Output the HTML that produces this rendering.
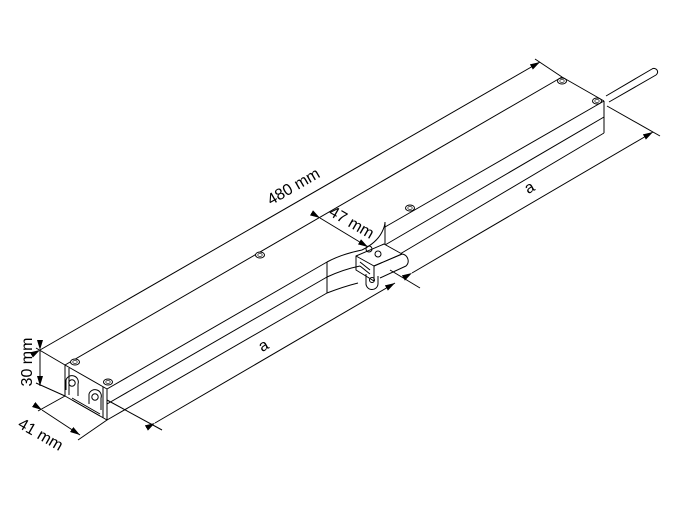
<!DOCTYPE html>
<html><head><meta charset="utf-8"><style>
html,body{margin:0;padding:0;background:#fff;}
svg{display:block;}
text{font-family:"Liberation Sans",sans-serif;fill:#000;}
</style></head><body>
<svg width="674" height="513" viewBox="0 0 674 513" xmlns="http://www.w3.org/2000/svg">
<defs>
<marker id="ar" viewBox="0 0 10 6" refX="10" refY="3" markerWidth="10" markerHeight="6" orient="auto" markerUnits="userSpaceOnUse">
<path d="M0,0 L10,3 L0,6 z" fill="#000"/>
</marker>
</defs>
<g stroke="#000" stroke-width="1" fill="none" stroke-linejoin="round">
<path d="M606,96 L652,69 A3.5,3.5 0 0 1 656,75 L609,102" fill="#fff"/>
<path d="M65,365 L107,389 L107,420 L65,396 Z"/>
<line x1="69" y1="368" x2="69" y2="395"/>
<line x1="103" y1="387" x2="103" y2="418"/>
<path d="M72,398 L100,414"/><path d="M72,400 L100,416"/>
<path d="M66,390 L66,380 A6,6 0 0 1 78,384 L78,396"/>
<circle cx="72" cy="383" r="3.2"/>
<path d="M89,404 L89,394 A6,6 0 0 1 101,398 L101,410"/>
<circle cx="95" cy="397" r="3.2"/>
<line x1="65" y1="365" x2="562" y2="77"/>
<line x1="562" y1="77" x2="604" y2="101"/>
<line x1="107" y1="389" x2="327" y2="262"/>
<line x1="107" y1="404" x2="327" y2="277"/>
<line x1="107" y1="420" x2="327" y2="293"/>
<line x1="327" y1="262" x2="327" y2="293"/>
<path d="M327,262 C340,255 352,252 362,250"/>
<path d="M327,277 C340,271 350,268 360,266"/>
<path d="M327,293 C340,288 350,285 358,283"/>
<path d="M362,250 C370,246 378,240 382,232 C384,228 385,225 385,222"/>
<line x1="385" y1="222" x2="385" y2="244"/>
<line x1="385" y1="227" x2="604" y2="101"/>
<line x1="385" y1="245" x2="604" y2="117"/>
<line x1="400" y1="254" x2="604" y2="133"/>
<line x1="604" y1="101" x2="604" y2="133"/>
<path d="M356,256 L384,244 L402,254 L374,266 Z" fill="#fff"/>
<path d="M356,256 L356,270 L374,281 L374,266"/>
<path d="M374,266 L402,254 A7,7 0 0 1 406,266 L380,278"/>
<path d="M360,262 L370,270"/><path d="M360,266 L370,274"/>
<path d="M366,274 L366,283 A6,6 0 0 0 378,284 L378,276"/>
<circle cx="372" cy="280" r="2.5"/>
<circle cx="369" cy="249" r="3"/>
<circle cx="378" cy="254" r="3"/>
<g fill="#fff">
<ellipse cx="75" cy="362" rx="4.5" ry="3"/><ellipse cx="108" cy="382" rx="4.5" ry="3"/>
<ellipse cx="260" cy="255" rx="4.5" ry="3"/><ellipse cx="410" cy="208" rx="4.5" ry="3"/>
<ellipse cx="562" cy="81" rx="4.5" ry="3"/><ellipse cx="597" cy="101" rx="4.5" ry="3"/>
</g>
<g stroke-width="0.6">
<ellipse cx="75" cy="362" rx="2.2" ry="1.4"/><ellipse cx="108" cy="382" rx="2.2" ry="1.4"/>
<ellipse cx="260" cy="255" rx="2.2" ry="1.4"/><ellipse cx="410" cy="208" rx="2.2" ry="1.4"/>
<ellipse cx="562" cy="81" rx="2.2" ry="1.4"/><ellipse cx="597" cy="101" rx="2.2" ry="1.4"/>
</g>
<line x1="65" y1="365" x2="36" y2="348"/>
<line x1="65" y1="396" x2="36" y2="383"/>
<line x1="65" y1="396" x2="38" y2="411"/>
<line x1="107" y1="420" x2="78" y2="440"/>
<line x1="562" y1="77" x2="535" y2="59"/>
<line x1="107" y1="400" x2="162" y2="430"/>
<line x1="390" y1="270" x2="420" y2="288"/>
<line x1="607" y1="106" x2="660" y2="136"/>
<line x1="40" y1="350" x2="540" y2="62" marker-start="url(#ar)" marker-end="url(#ar)"/>
<line x1="40" y1="350" x2="40" y2="386" marker-start="url(#ar)" marker-end="url(#ar)"/>
<line x1="42" y1="410" x2="80" y2="435" marker-start="url(#ar)" marker-end="url(#ar)"/>
<line x1="320" y1="218" x2="368" y2="247" marker-start="url(#ar)" marker-end="url(#ar)"/>
<line x1="155" y1="423" x2="395" y2="283" marker-start="url(#ar)" marker-end="url(#ar)"/>
<line x1="412" y1="273" x2="653" y2="132" marker-start="url(#ar)" marker-end="url(#ar)"/>
</g>
<text x="0" y="0" font-size="16" transform="translate(296,191) rotate(-30)" text-anchor="middle">480 mm</text>
<text x="0" y="0" font-size="16" transform="translate(32,362) rotate(-90)" text-anchor="middle">30 mm</text>
<text x="0" y="0" font-size="16" transform="translate(38,439) rotate(30)" text-anchor="middle">41 mm</text>
<text x="0" y="0" font-size="16" transform="translate(349,227) rotate(30)" text-anchor="middle">47 mm</text>
<text x="0" y="0" font-size="16" transform="translate(266,350) rotate(-30)" text-anchor="middle">a</text>
<text x="0" y="0" font-size="16" transform="translate(532,192) rotate(-30)" text-anchor="middle">a</text>
</svg>
</body></html>
